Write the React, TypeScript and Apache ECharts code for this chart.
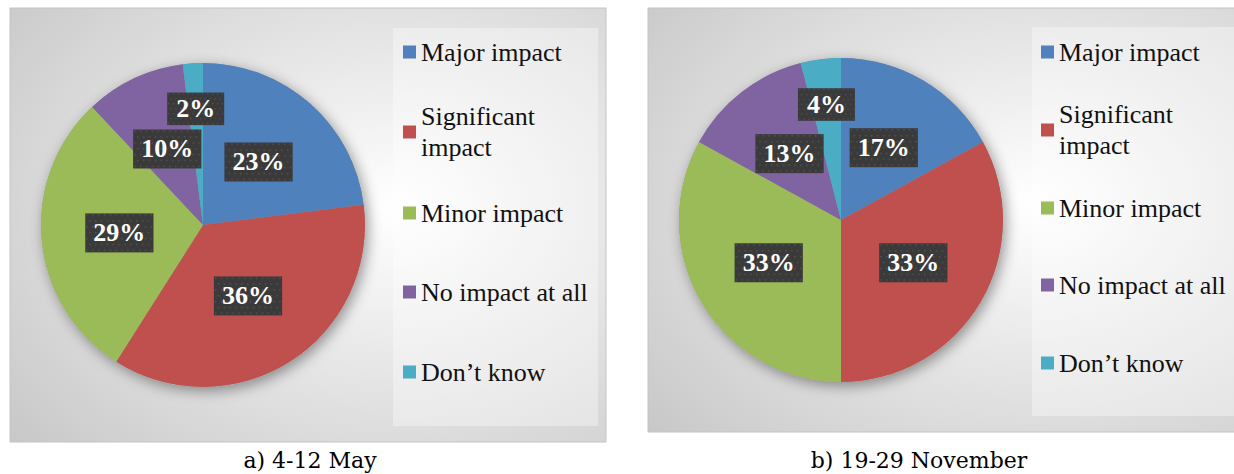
import React, { useEffect, useRef } from "react";
import * as echarts from "echarts";

const categories = ["Major impact", "Significant impact", "Minor impact", "No impact at all", "Don’t know"];
const mayValues = [23, 36, 29, 10, 2];
const novValues = [17, 33, 33, 13, 4];
const palette = ["#4f81bd", "#c0504d", "#9bbb59", "#8064a2", "#4bacc6"];
const captions = ["a) 4-12 May", "b) 19-29 November"];

const R = 162;
const SERIF = "serif";

type Panel = {
  box: [number, number, number, number];
  legendBox: [number, number, number, number];
  center: [number, number];
  legendX: number;
  legendY: number[];
  captionX: number;
  values: number[];
};

const panels: Panel[] = [
  {
    box: [10, 8, 596, 434],
    legendBox: [393, 28, 205, 398],
    center: [203, 225],
    legendX: 403,
    legendY: [52, 132, 213, 292, 372],
    captionX: 310,
    values: mayValues,
  },
  {
    box: [648, 8, 600, 424],
    legendBox: [1032, 27, 210, 389],
    center: [841, 220],
    legendX: 1041,
    legendY: [52, 130, 208, 285, 363],
    captionX: 919,
    values: novValues,
  },
];

function makeDots(): string | null {
  try {
    const c = document.createElement("canvas");
    c.width = 70;
    c.height = 40;
    const ctx = c.getContext("2d");
    if (!ctx) return null;
    ctx.fillStyle = "#3a3a3a";
    ctx.fillRect(0, 0, 70, 40);
    ctx.fillStyle = "#555555";
    for (let y = 1; y < 40; y += 6) {
      for (let x = 1; x < 70; x += 6) {
        ctx.fillRect(x + (((y - 1) / 6) % 2) * 3, y, 1.5, 1.5);
      }
    }
    return c.toDataURL();
  } catch (e) {
    return null;
  }
}

function buildOption() {
  const graphic: any[] = [];
  const legends: any[] = [];
  const series: any[] = [];
  const dots = makeDots();

  panels.forEach((p, pi) => {
    graphic.push({
      type: "rect",
      z: -10,
      shape: { x: p.box[0], y: p.box[1], width: p.box[2], height: p.box[3] },
      style: {
        fill: new echarts.graphic.RadialGradient(0.64, 0.46, 1.0, [
          { offset: 0, color: "#ffffff" },
          { offset: 1, color: "#bdbdbd" },
        ]),
        stroke: "#c4c4c4",
        lineWidth: 1,
      },
    });
    graphic.push({
      type: "rect",
      z: -9,
      shape: { x: p.legendBox[0], y: p.legendBox[1], width: p.legendBox[2], height: p.legendBox[3] },
      style: { fill: "rgba(255,255,255,0.35)" },
    });
    graphic.push({
      type: "text",
      z: -8,
      x: p.captionX,
      y: 460,
      style: {
        text: captions[pi],
        fontFamily: "DejaVu Serif",
        fontSize: 22,
        fill: "#000",
        align: "center",
        verticalAlign: "middle",
      },
    });

    categories.forEach((c, i) => {
      const twoLine = c === "Significant impact";
      const lh = 31;
      legends.push({
        data: [c],
        left: p.legendX,
        top: twoLine ? p.legendY[i] - (lh * 3) / 2 : p.legendY[i] - lh / 2,
        orient: "vertical",
        padding: 0,
        icon: "rect",
        itemWidth: 13,
        itemHeight: 13,
        selectedMode: false,
        formatter: twoLine ? (n: string) => n.replace(" ", "\n") : "{name}",
        textStyle: {
          fontFamily: SERIF,
          fontSize: 26,
          color: "#111",
          lineHeight: lh,
          padding: twoLine ? [lh, 0, 0, 0] : 0,
        },
      });
    });

    series.push({
      type: "pie",
      name: "shadow" + pi,
      silent: true,
      z: 1,
      center: p.center,
      radius: R,
      label: { show: false },
      labelLine: { show: false },
      itemStyle: {
        color: "#999",
        shadowBlur: 14,
        shadowColor: "rgba(0,0,0,0.4)",
        shadowOffsetX: 3,
        shadowOffsetY: 4,
      },
      data: [{ value: 1, name: "bg" + pi }],
    });

    const total = p.values.reduce((a, b) => a + b, 0);
    const vals = p.values;
    series.push({
      type: "pie",
      name: "panel" + pi,
      z: 2,
      center: p.center,
      radius: R,
      startAngle: 90,
      clockwise: true,
      avoidLabelOverlap: false,
      emphasis: { disabled: true },
      labelLine: { show: false },
      label: {
        show: true,
        position: "inside",
        formatter: "{c}%",
        color: "#fff",
        fontFamily: SERIF,
        fontWeight: "bold",
        fontSize: 26,
        lineHeight: 27,
        backgroundColor: dots ? { image: dots } : "#3c3c3c",
        padding: [6, 9, 6, 9],
        shadowBlur: 6,
        shadowColor: "rgba(0,0,0,0.55)",
        shadowOffsetX: 3,
        shadowOffsetY: 3,
      },
      labelLayout: (params: any) => {
        const idx = params.dataIndex;
        if (vals[idx] >= 5) return {};
        let cum = 0;
        for (let k = 0; k < idx; k++) cum += vals[k];
        const mid = ((cum + vals[idx] / 2) / total) * Math.PI * 2;
        const extra = 0.2 * R;
        return { dx: extra * Math.sin(mid), dy: -extra * Math.cos(mid) };
      },
      data: categories.map((c, i) => ({
        name: c,
        value: vals[i],
        itemStyle: { color: palette[i] },
      })),
    });
  });

  return {
    animation: false,
    backgroundColor: "#ffffff",
    graphic,
    legend: legends,
    series,
  };
}

export default function App() {
  const ref = useRef<HTMLDivElement>(null);
  useEffect(() => {
    if (!ref.current) return;
    const chart = echarts.init(ref.current, undefined, { renderer: "svg" });
    chart.setOption(buildOption() as any);
    return () => chart.dispose();
  }, []);
  return (
    <div
      ref={ref}
      style={{ position: "absolute", left: 0, top: 0, width: 1234, height: 474 }}
    />
  );
}
